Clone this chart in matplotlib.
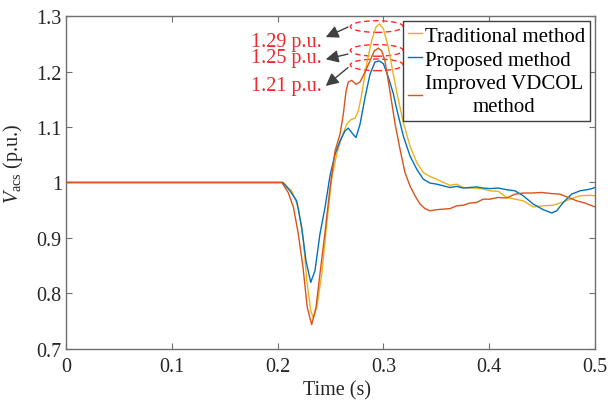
import numpy as np
import matplotlib
matplotlib.use('Agg')
import matplotlib.pyplot as plt
from matplotlib.patches import Ellipse
from matplotlib.ticker import FormatStrFormatter

plt.rcParams['font.family'] = ['Liberation Serif', 'DejaVu Serif']
plt.rcParams['mathtext.fontset'] = 'custom'
plt.rcParams['mathtext.rm'] = 'Liberation Serif'
plt.rcParams['mathtext.it'] = 'Liberation Serif:italic'

# data
t_trad = [0, 0.205, 0.2133, 0.2196, 0.2243, 0.228, 0.2313, 0.2338, 0.237, 0.2417, 0.2464,
          0.2511, 0.2558, 0.2606, 0.2653, 0.2691, 0.2732, 0.2763, 0.2795, 0.2842, 0.2889,
          0.293, 0.2961, 0.300, 0.3046, 0.3094, 0.3126, 0.3188, 0.3251, 0.3315, 0.3377,
          0.344, 0.3504, 0.3566, 0.363, 0.3693, 0.3755, 0.3819, 0.388, 0.3944, 0.4008,
          0.4086, 0.4165, 0.4244, 0.4322, 0.4417, 0.4511, 0.4606, 0.4685, 0.4779, 0.4858,
          0.4953, 0.5]
v_trad = [1.0, 1.0, 0.985, 0.955, 0.895, 0.817, 0.769, 0.756, 0.775, 0.835, 0.925,
          1.006, 1.051, 1.081, 1.105, 1.113, 1.116, 1.129, 1.159, 1.214, 1.256,
          1.280, 1.286, 1.277, 1.244, 1.195, 1.163, 1.108, 1.066, 1.036, 1.018,
          1.011, 1.006, 1.0, 0.995, 0.997, 0.991, 0.990, 0.990, 0.988, 0.985,
          0.984, 0.973, 0.970, 0.967, 0.956, 0.958, 0.959, 0.964, 0.971, 0.976,
          0.977, 0.976]

t_prop = [0, 0.205, 0.2117, 0.218, 0.2228, 0.2268, 0.2313, 0.2353, 0.240, 0.2448,
          0.2495, 0.2543, 0.259, 0.2637, 0.2668, 0.270, 0.2741, 0.2779, 0.2826, 0.2873,
          0.292, 0.2961, 0.300, 0.3046, 0.3094, 0.3126, 0.3188, 0.3251, 0.3315, 0.3377,
          0.344, 0.3504, 0.3566, 0.363, 0.3693, 0.3755, 0.3819, 0.388, 0.3944, 0.4008,
          0.4086, 0.4165, 0.4244, 0.4322, 0.4417, 0.4511, 0.459, 0.4638, 0.47, 0.4779,
          0.4858, 0.4953, 0.5]
v_prop = [1.0, 1.0, 0.985, 0.967, 0.919, 0.859, 0.820, 0.841, 0.907, 0.955,
          1.012, 1.051, 1.075, 1.093, 1.098, 1.090, 1.081, 1.105, 1.153, 1.195,
          1.217, 1.219, 1.214, 1.190, 1.160, 1.132, 1.084, 1.048, 1.024, 1.006,
          0.999, 0.997, 0.994, 0.991, 0.993, 0.990, 0.991, 0.992, 0.990, 0.989,
          0.990, 0.987, 0.985, 0.976, 0.961, 0.951, 0.945, 0.949, 0.964, 0.979,
          0.985, 0.988, 0.991]

t_imp = [0, 0.204, 0.210, 0.215, 0.2196, 0.224, 0.228, 0.2322, 0.2363, 0.240, 0.2448,
         0.2495, 0.2543, 0.259, 0.2621, 0.2647, 0.2668, 0.270, 0.2741, 0.2779, 0.2826,
         0.2873, 0.2914, 0.2952, 0.2984, 0.3015, 0.3046, 0.3078, 0.311, 0.3157, 0.3204,
         0.3251, 0.3299, 0.3346, 0.3393, 0.344, 0.3504, 0.3566, 0.363, 0.3693, 0.3755,
         0.3819, 0.388, 0.3944, 0.4008, 0.4086, 0.4165, 0.4244, 0.4322, 0.4402, 0.4496,
         0.459, 0.4669, 0.4748, 0.4827, 0.4905, 0.5]
v_imp = [1.0, 1.0, 0.982, 0.955, 0.907, 0.847, 0.775, 0.744, 0.775, 0.835, 0.910,
         0.990, 1.057, 1.087, 1.123, 1.165, 1.181, 1.184, 1.177, 1.181, 1.199,
         1.219, 1.237, 1.242, 1.237, 1.219, 1.183, 1.145, 1.106, 1.060, 1.018,
         0.994, 0.976, 0.961, 0.953, 0.949, 0.951, 0.952, 0.953, 0.958, 0.959,
         0.963, 0.964, 0.970, 0.970, 0.973, 0.972, 0.979, 0.981, 0.981, 0.982,
         0.980, 0.979, 0.973, 0.967, 0.963, 0.956]

peak_labels = ['1.29 p.u.', '1.25 p.u.', '1.21 p.u.']
peak_centers = [1.281, 1.238, 1.212]   # ellipse centres (p.u.)
label_y = [1.2535, 1.2245, 1.174]
arrow_tail = [1.280, 1.2315, 1.207]
arrow_head = [1.262, 1.222, 1.174]

c_trad = '#EDB120'
c_prop = '#0072BD'
c_imp = '#D95319'
grey = '#6e6e6e'

fig = plt.figure(figsize=(6.08, 4.02), dpi=100)
ax = fig.add_axes([0.1086, 0.1294, 0.87, 0.8283])

ax.plot(t_trad, v_trad, color=c_trad, lw=1.0, label='Traditional method')
ax.plot(t_prop, v_prop, color=c_prop, lw=1.0, label='Proposed method')
ax.plot(t_imp, v_imp, color=c_imp, lw=1.0, label='Improved VDCOL\nmethod')

# dashed ellipses around the peaks + arrows + labels
for lab, yc, ly, ya, yh in zip(peak_labels, peak_centers, label_y, arrow_tail, arrow_head):
    e = Ellipse((0.2937, yc), 0.050, 0.021, fill=False, edgecolor='#FF2A2A',
                lw=1.0, ls=(0, (4, 2.5)))
    ax.add_patch(e)
    ax.annotate('', xy=(0.2455, yh), xytext=(0.2665, ya),
                arrowprops=dict(arrowstyle='-|>', color='#404040', lw=1.0,
                                mutation_scale=19, shrinkA=0, shrinkB=0))
    ax.text(0.2420, ly, lab, color='#F0282D', fontsize=14.5, ha='right', va='center')

ax.set_xlim(0, 0.5)
ax.set_ylim(0.7, 1.3)
ax.set_xticks([0, 0.1, 0.2, 0.3, 0.4, 0.5])
ax.set_yticks([0.7, 0.8, 0.9, 1.0, 1.1, 1.2, 1.3])
ax.xaxis.set_major_formatter(FormatStrFormatter('%g'))
ax.yaxis.set_major_formatter(FormatStrFormatter('%g'))
ax.tick_params(direction='in', length=4, width=0.8, color=grey, labelsize=14.5,
               top=True, right=True, labelcolor='#262626')
ax.tick_params(axis='x', pad=6)
ax.tick_params(axis='y', pad=3)
for s in ax.spines.values():
    s.set_color(grey)
    s.set_linewidth(1.0)

ax.set_xlabel('Time (s)', fontsize=14.5, color='#262626')
ax.set_ylabel(r'$V_{\mathrm{acs}}$ (p.u.)', fontsize=14.5, color='#262626')
ax.xaxis.set_label_coords(0.512, -0.095)
ax.yaxis.set_label_coords(-0.078, 0.56)

leg = ax.legend(loc='upper right', bbox_to_anchor=(0.9905, 0.985), fontsize=15,
                handlelength=0.7, handletextpad=0.1, labelspacing=0.2,
                borderpad=0.25, borderaxespad=0, fancybox=False, framealpha=1)
leg.get_frame().set_edgecolor('#404040')
leg.get_frame().set_linewidth(1.0)
for txt in leg.get_texts():
    txt.set_multialignment('center')
    txt.set_linespacing(1.3)

fig.savefig('out.png', dpi=100)
